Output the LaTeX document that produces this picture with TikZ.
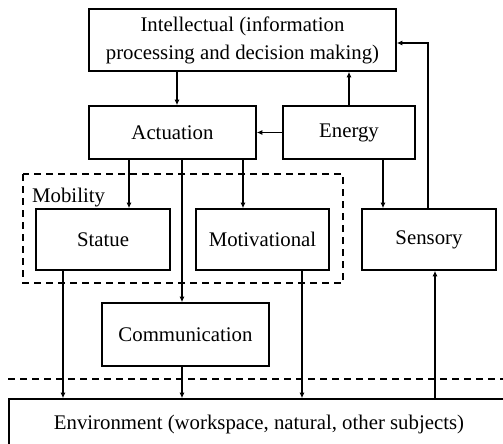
\documentclass[tikz,border=0pt]{standalone}
\usepackage{fontspec}
\setmainfont{Liberation Serif}
\usepackage{xcolor}
\usepackage{tikz}
\usetikzlibrary{arrows.meta}

\begin{document}
\begin{tikzpicture}[x=1pt,y=-1pt,font=\fontsize{20.8}{28}\selectfont,every node/.style={shape=rectangle,align=center},box/.style={draw,line width=1.6pt,inner sep=0pt},link/.style={line width=1.4pt,-{Latex[length=5.5pt,width=5pt]}},sep/.style={line width=1.6pt,dash pattern=on 7pt off 5pt}]
      \useasboundingbox (0,0) rectangle (503,444);
      \clip (0,0) rectangle (503,444);
      \node[box,minimum width=307pt,minimum height=62pt] (intel) at (242.5,40) {Intellectual (information\\processing and decision making)};
      \node[box,minimum width=167pt,minimum height=53pt] (act) at (172.5,132.5) {Actuation};
      \node[box,minimum width=132pt,minimum height=53pt] (energy) at (349,132.5) {Energy};
      \node[box,minimum width=134pt,minimum height=61pt] (statue) at (103,239.5) {Statue};
      \node[box,minimum width=133pt,minimum height=61pt] (motiv) at (262.5,239.5) {Motivational};
      \node[box,minimum width=134pt,minimum height=61pt] (sensory) at (429,239.5) {Sensory};
      \node[box,minimum width=167pt,minimum height=63pt] (comm) at (185.5,334.5) {Communication};
      \node[box,minimum width=500pt,minimum height=50pt] (env) at (259,424) {Environment (workspace, natural, other subjects)};
      % mobility group and separator
      \draw[sep] (23,174) rectangle (343,283);
      \node[anchor=base west,inner sep=0pt] (mobility) at (32,202) {Mobility};
      \coordinate (sepl) at (8,379);
      \coordinate (sepr) at (503,379);
      \draw[sep] (sepl) -- (sepr);
      % links
      \draw[link] ([xshift=4.5pt]act.north |- intel.south) -- ([xshift=4.5pt]act.north);
      \draw[link] (energy.north) -- (energy.north |- intel.south);
      \draw[link] (energy.west) -- (act.east);
      \draw[link] ([xshift=-43.5pt]act.south) -- ([xshift=26pt]statue.north);
      \draw[link] ([xshift=9.5pt]act.south) -- ([xshift=-3.5pt]comm.north);
      \draw[link] ([xshift=70.5pt]act.south) -- ([xshift=-19.5pt]motiv.north);
      \draw[link] ([xshift=34pt]energy.south) -- ([xshift=-46pt]sensory.north);
      \draw[link] ([xshift=-1pt]sensory.north) |- ([yshift=-3pt]intel.east);
      \draw[link] ([xshift=-40pt]statue.south) -- ([xshift=-40pt]statue.south |- env.north);
      \draw[link] ([xshift=-3.5pt]comm.south) -- ([xshift=-3.5pt]comm.south |- env.north);
      \draw[link] ([xshift=39.5pt]motiv.south) -- ([xshift=39.5pt]motiv.south |- env.north);
      \draw[link] ([xshift=6pt]sensory.south |- env.north) -- ([xshift=6pt]sensory.south);
\end{tikzpicture}
\end{document}
